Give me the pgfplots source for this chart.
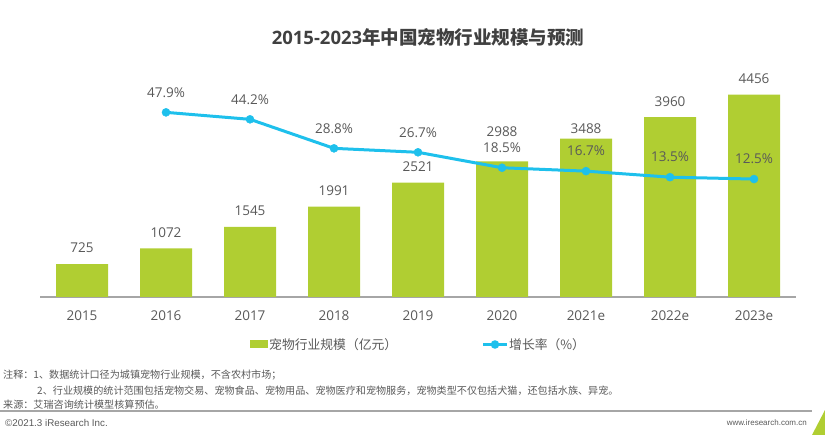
\documentclass[border=0pt]{standalone}
\usepackage{pgfplots}
\usepackage{pgfplotstable}
\pgfplotsset{compat=1.18}
\usepackage{fontspec}
\setmainfont{Open Sans}
\newfontfamily\cjk{Noto Sans CJK SC}
\newfontfamily\arial{Liberation Sans}

\definecolor{bargreen}{RGB}{176,206,50}
\definecolor{linecyan}{RGB}{30,192,236}
\definecolor{txt}{RGB}{89,89,89}
\definecolor{axgray}{RGB}{166,166,166}
\definecolor{titlegray}{RGB}{64,64,64}

% market size (100 million yuan); off = label lift in pt
\pgfplotstableread{
x size off
0 725 16
1 1072 16
2 1545 16
3 1991 16
4 2521 16
5 2988 30
6 3488 10
7 3960 16
8 4456 16
}\sizes

% growth rate (%)
\pgfplotstableread{
x rate
1 47.9
2 44.2
3 28.8
4 26.7
5 18.5
6 16.7
7 13.5
8 12.5
}\rates

\begin{document}
\begin{tikzpicture}
\useasboundingbox (0pt,0pt) rectangle (825pt,435pt);

\begin{axis}[
    at={(40pt,138pt)}, anchor=south west,
    scale only axis, width=756pt, height=237pt,
    ybar, bar width=52pt,
    xmin=-0.5, xmax=8.5, ymin=0, ymax=5220,
    axis x line*=bottom, axis y line=none,
    x axis line style={axgray, line width=1.5pt},
    xtick={0,...,8},
    xticklabels={2015,2016,2017,2018,2019,2020,2021e,2022e,2023e},
    major tick length=0pt,
    xticklabel style={text=txt, font=\fontsize{13.5}{15}\selectfont, yshift=-10pt},
    /pgf/number format/1000 sep={},
    /pgf/number format/assume math mode=true,
  ]
  \addplot[fill=bargreen, draw=none,
    nodes near coords, point meta=explicit,
    visualization depends on={\thisrow{off} \as \off},
    every node near coord/.style={anchor=center, yshift=\off pt,
      text=txt, font=\fontsize{13.5}{15}\selectfont}]
    table[x=x, y=size, meta=size]{\sizes};
\end{axis}

\begin{axis}[
    at={(40pt,138pt)}, anchor=south west,
    scale only axis, width=756pt, height=237pt,
    xmin=-0.5, xmax=8.5, ymin=-50.1, ymax=75.7,
    hide axis, clip=false,
  ]
  \addplot[linecyan, line width=3pt, mark=*, mark size=4pt,
    mark options={fill=linecyan, line width=0.5pt},
    nodes near coords={\pgfmathprintnumber[fixed, fixed zerofill, precision=1, assume math mode=true]{\pgfplotspointmeta}\%},
    point meta=explicit,
    every node near coord/.style={anchor=center, yshift=20pt,
      text=txt, font=\fontsize{13.5}{15}\selectfont}]
    table[x=x, y=rate, meta=rate]{\rates};
\end{axis}

\begin{scope}[x=1pt, y=1pt]
% title
\node[text=titlegray, font=\fontsize{18.5}{22}\selectfont\bfseries] at (428,398)
  {2015-2023{\cjk 年中国宠物行业规模与预测}};

% legend
\fill[bargreen] (250,87) rectangle (268,95);
\node[anchor=west, text=txt, font=\fontsize{12.8}{15}\selectfont\cjk, inner sep=0pt] at (269,90.5) {宠物行业规模（亿元）};
\draw[linecyan, line width=3pt] (483,90.5) -- (507,90.5);
\fill[linecyan] (495,90.5) circle (4.3);
\node[anchor=west, text=txt, font=\fontsize{12.8}{15}\selectfont\cjk, inner sep=0pt] at (509,90.5) {增长率（\%）};

% notes
\begin{scope}[every node/.style={anchor=west, inner sep=0pt, text=txt, font=\fontsize{10.1}{12}\selectfont\cjk}]
\node at (3,60) {注释：1、数据统计口径为城镇宠物行业规模，不含农村市场；};
\node at (37,44) {2、行业规模的统计范围包括宠物交易、宠物食品、宠物用品、宠物医疗和宠物服务，宠物类型不仅包括犬猫，还包括水族、异宠。};
\node at (3,30) {来源：艾瑞咨询统计模型核算预估。};
\end{scope}
\draw[axgray, line width=1.5pt] (0,24) -- (812,24);
\node[anchor=west, inner sep=0pt, text=txt, font=\fontsize{9.8}{11}\selectfont\arial] at (5,12) {©2021.3 iResearch Inc.};
\node[anchor=east, inner sep=0pt, text=txt, font=\fontsize{8}{10}\selectfont\arial] at (807,12) {www.iresearch.com.cn};
\fill[bargreen] (812,0) -- (825,25) -- (825,0) -- cycle;
\end{scope}
\end{tikzpicture}
\end{document}
